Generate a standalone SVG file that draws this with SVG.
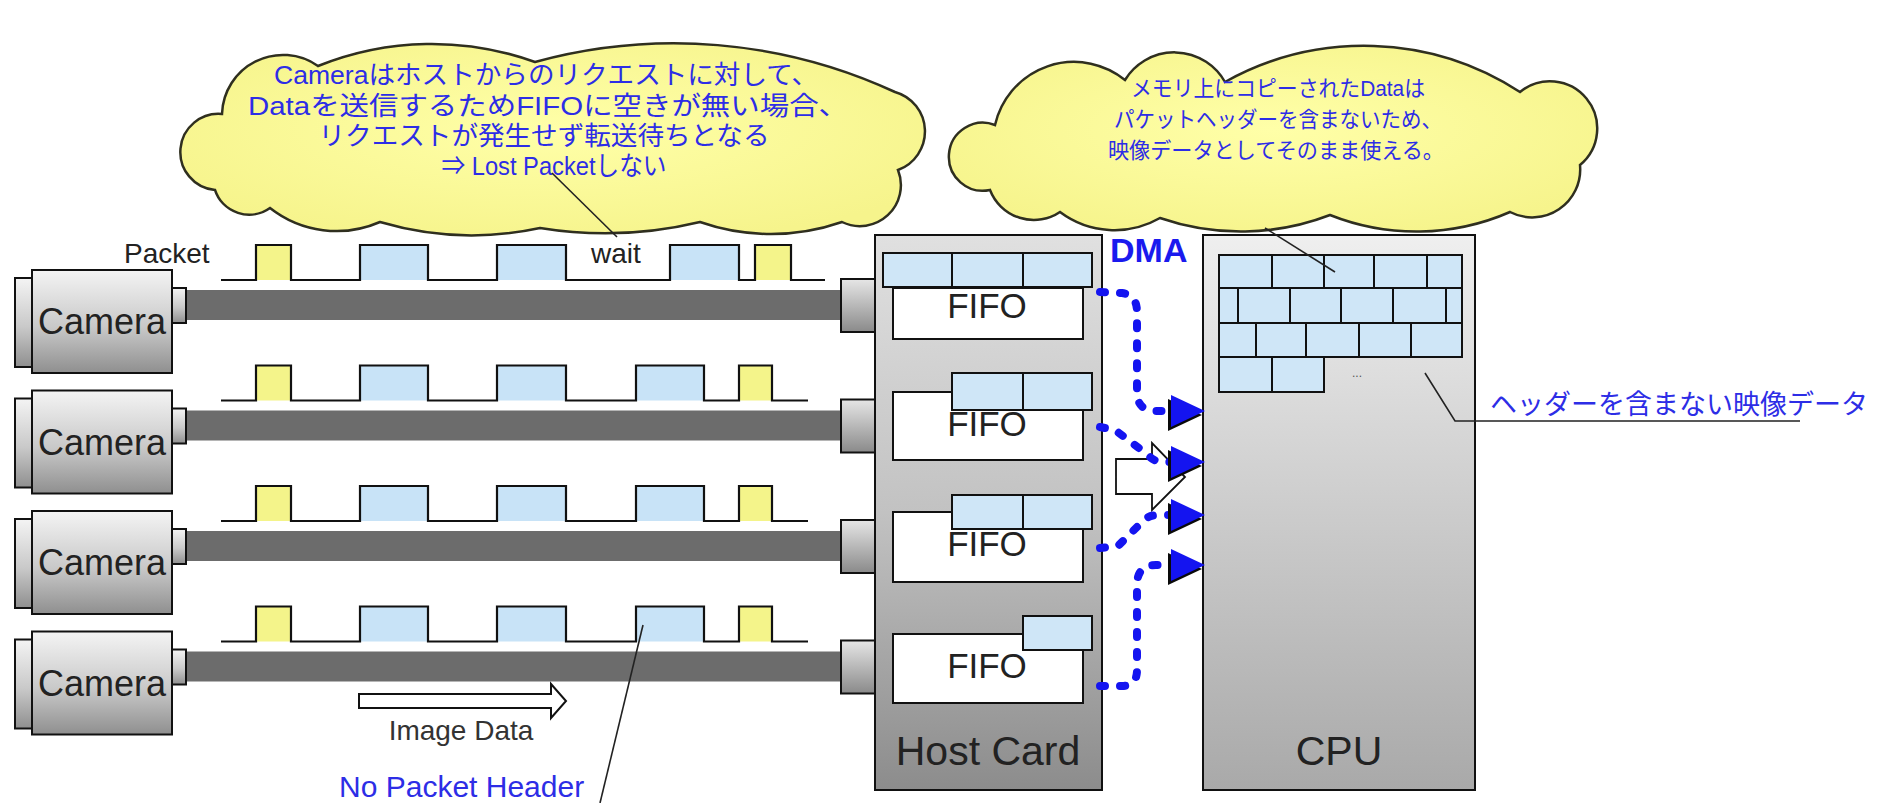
<svg xmlns="http://www.w3.org/2000/svg" xmlns:xlink="http://www.w3.org/1999/xlink" width="1886" height="803" viewBox="0 0 1886 803">
  <style>
    .sans { font-family: "Liberation Sans", "Noto Sans CJK JP", sans-serif; }
    .note { font-family: "Liberation Sans", "Noto Sans CJK JP", sans-serif; fill: #2d2de6; text-anchor: middle; }
    .n1 { font-size: 26px; }
    .n2 { font-size: 22px; }
    .blue { fill: #2d2de6; }
    .cloud { fill: url(#gCloud); stroke: #2f2f1f; stroke-width: 2.5; }
    .edge { stroke: #111; stroke-width: 2; }
    .cable { fill: #6c6c6c; }
    .wave { fill: none; stroke: #111; stroke-width: 2.2; }
    .pY { fill: #f4f48a; }
    .pB { fill: #c8e3f7; }
    .brick { fill: #cfe6f7; stroke: #111; stroke-width: 2; }
    .fifo { fill: #ffffff; stroke: #111; stroke-width: 2; }
    .fifoTxt { font-family: "Liberation Sans", sans-serif; font-size: 35px; fill: #222; text-anchor: middle; }
    .dma { fill: none; stroke: #1414f0; stroke-width: 8; stroke-dasharray: 5 15; stroke-linecap: round; stroke-linejoin: round; }
    .lead { fill: none; stroke: #222; stroke-width: 1.6; }
  </style>
  <defs>
    <linearGradient id="gCam" x1="0" y1="0" x2="0" y2="1">
      <stop offset="0" stop-color="#f4f4f4"/>
      <stop offset="0.55" stop-color="#c9c9c9"/>
      <stop offset="1" stop-color="#8f8f8f"/>
    </linearGradient>
    <linearGradient id="gConn" x1="0" y1="0" x2="0" y2="1">
      <stop offset="0" stop-color="#e6e6e6"/>
      <stop offset="1" stop-color="#8a8a8a"/>
    </linearGradient>
    <linearGradient id="gHost" x1="0" y1="0" x2="0" y2="1">
      <stop offset="0" stop-color="#e0e0e0"/>
      <stop offset="0.5" stop-color="#c2c2c2"/>
      <stop offset="1" stop-color="#8c8c8c"/>
    </linearGradient>
    <linearGradient id="gCpu" x1="0" y1="0" x2="0" y2="1">
      <stop offset="0" stop-color="#efefef"/>
      <stop offset="1" stop-color="#a9a9a9"/>
    </linearGradient>
    <radialGradient id="gCloud" cx="0.5" cy="0.45" r="0.6">
      <stop offset="0" stop-color="#ffffa8"/>
      <stop offset="1" stop-color="#f6f48c"/>
    </radialGradient>
    <!-- camera body with flange, output tab, cable and host-side connector -->
    <g id="camUnit">
      <rect x="186" y="20" width="655" height="30" class="cable"/>
      <rect x="15" y="8" width="17" height="89" fill="url(#gCam)" class="edge"/>
      <rect x="32" y="0" width="140" height="103" fill="url(#gCam)" class="edge"/>
      <rect x="172" y="18" width="14" height="35" fill="url(#gCam)" class="edge"/>
      <rect x="841" y="9" width="34" height="53" fill="url(#gConn)" class="edge"/>
      <text x="102" y="64" class="sans" font-size="36" fill="#222" text-anchor="middle">Camera</text>
    </g>
    <!-- DMA arrowhead with dark drop shadow, tip at origin -->
    <g id="dmaHead">
      <polygon points="-3,4 -37,-12 -37,20" fill="#0a0a0a"/>
      <polygon points="0,0 -34,-16 -34,16" fill="#1414f0"/>
    </g>
  </defs>

  <rect width="1886" height="803" fill="#ffffff"/>

  <!-- camera rows -->
  <g id="camera1" transform="translate(0,270)">
    <use xlink:href="#camUnit"/>
    <rect x="256" y="-25" width="35" height="35" class="pY"/>
    <rect x="360" y="-25" width="68" height="35" class="pB"/>
    <rect x="497" y="-25" width="69" height="35" class="pB"/>
    <rect x="670" y="-25" width="69" height="35" class="pB"/>
    <rect x="755" y="-25" width="36" height="35" class="pY"/>
    <path class="wave" d="M221,10 H256 V-25 H291 V10 H360 V-25 H428 V10 H497 V-25 H566 V10 H670 V-25 H739 V10 H755 V-25 H791 V10 H825"/>
  </g>
  <g id="camera2" transform="translate(0,390.5)">
    <use xlink:href="#camUnit"/>
    <rect x="256" y="-25" width="35" height="35" class="pY"/>
    <rect x="360" y="-25" width="68" height="35" class="pB"/>
    <rect x="497" y="-25" width="69" height="35" class="pB"/>
    <rect x="636" y="-25" width="68" height="35" class="pB"/>
    <rect x="739" y="-25" width="33" height="35" class="pY"/>
    <path class="wave" d="M221,10 H256 V-25 H291 V10 H360 V-25 H428 V10 H497 V-25 H566 V10 H636 V-25 H704 V10 H739 V-25 H772 V10 H808"/>
  </g>
  <g id="camera3" transform="translate(0,511)">
    <use xlink:href="#camUnit"/>
    <rect x="256" y="-25" width="35" height="35" class="pY"/>
    <rect x="360" y="-25" width="68" height="35" class="pB"/>
    <rect x="497" y="-25" width="69" height="35" class="pB"/>
    <rect x="636" y="-25" width="68" height="35" class="pB"/>
    <rect x="739" y="-25" width="33" height="35" class="pY"/>
    <path class="wave" d="M221,10 H256 V-25 H291 V10 H360 V-25 H428 V10 H497 V-25 H566 V10 H636 V-25 H704 V10 H739 V-25 H772 V10 H808"/>
  </g>
  <g id="camera4" transform="translate(0,631.5)">
    <use xlink:href="#camUnit"/>
    <rect x="256" y="-25" width="35" height="35" class="pY"/>
    <rect x="360" y="-25" width="68" height="35" class="pB"/>
    <rect x="497" y="-25" width="69" height="35" class="pB"/>
    <rect x="636" y="-25" width="68" height="35" class="pB"/>
    <rect x="739" y="-25" width="33" height="35" class="pY"/>
    <path class="wave" d="M221,10 H256 V-25 H291 V10 H360 V-25 H428 V10 H497 V-25 H566 V10 H636 V-25 H704 V10 H739 V-25 H772 V10 H808"/>
  </g>

  <g id="labels-left">
    <text x="124" y="263" class="sans" font-size="28" fill="#222">Packet</text>
    <text x="591" y="263" class="sans" font-size="28" fill="#222">wait</text>
    <polygon points="359,694 551,694 551,684 566,701 551,718 551,708 359,708" fill="#ffffff" stroke="#111" stroke-width="2"/>
    <text x="461" y="740" class="sans" font-size="28" fill="#333" text-anchor="middle">Image Data</text>
    <text x="339" y="797" class="sans blue" font-size="30">No Packet Header</text>
  </g>

  <!-- host card with FIFO buffers -->
  <g id="hostCard">
    <rect x="875" y="235" width="227" height="555" fill="url(#gHost)" class="edge"/>
    <rect x="893" y="288" width="190" height="51" class="fifo"/>
    <rect x="883" y="253" width="69" height="34" class="brick"/>
    <rect x="952" y="253" width="71" height="34" class="brick"/>
    <rect x="1023" y="253" width="69" height="34" class="brick"/>
    <text x="987" y="318" class="fifoTxt">FIFO</text>

    <rect x="893" y="392" width="190" height="68" class="fifo"/>
    <rect x="952" y="373" width="71" height="37" class="brick"/>
    <rect x="1023" y="373" width="69" height="37" class="brick"/>
    <text x="987" y="436" class="fifoTxt">FIFO</text>

    <rect x="893" y="512" width="190" height="70" class="fifo"/>
    <rect x="952" y="495" width="71" height="34" class="brick"/>
    <rect x="1023" y="495" width="69" height="34" class="brick"/>
    <text x="987" y="556" class="fifoTxt">FIFO</text>

    <rect x="893" y="634" width="190" height="69" class="fifo"/>
    <rect x="1023" y="616" width="69" height="34" class="brick"/>
    <text x="987" y="678" class="fifoTxt">FIFO</text>

    <text x="988" y="765" class="sans" font-size="41" fill="#222" text-anchor="middle">Host Card</text>
  </g>

  <!-- CPU with host memory -->
  <g id="cpu">
    <rect x="1203" y="235" width="272" height="555" fill="url(#gCpu)" class="edge"/>
    <rect x="1219" y="255" width="53" height="33" class="brick"/>
    <rect x="1272" y="255" width="52" height="33" class="brick"/>
    <rect x="1324" y="255" width="50" height="33" class="brick"/>
    <rect x="1374" y="255" width="53" height="33" class="brick"/>
    <rect x="1427" y="255" width="35" height="33" class="brick"/>
    <rect x="1219" y="288" width="19" height="35" class="brick"/>
    <rect x="1238" y="288" width="52" height="35" class="brick"/>
    <rect x="1290" y="288" width="51" height="35" class="brick"/>
    <rect x="1341" y="288" width="52" height="35" class="brick"/>
    <rect x="1393" y="288" width="53" height="35" class="brick"/>
    <rect x="1446" y="288" width="16" height="35" class="brick"/>
    <rect x="1219" y="323" width="37" height="34" class="brick"/>
    <rect x="1256" y="323" width="50" height="34" class="brick"/>
    <rect x="1306" y="323" width="53" height="34" class="brick"/>
    <rect x="1359" y="323" width="52" height="34" class="brick"/>
    <rect x="1411" y="323" width="51" height="34" class="brick"/>
    <rect x="1219" y="357" width="53" height="35" class="brick"/>
    <rect x="1272" y="357" width="52" height="35" class="brick"/>
    <text x="1357" y="377" class="sans" font-size="12" fill="#555" text-anchor="middle">...</text>
    <text x="1339" y="765" class="sans" font-size="41" fill="#222" text-anchor="middle">CPU</text>
  </g>

  <!-- DMA transfers from FIFOs into memory -->
  <g id="connectors">
    <polygon points="1116,459 1152,459 1152,443 1185,477 1152,510 1152,494 1116,494" fill="#ffffff" stroke="#111" stroke-width="1.8"/>
    <path class="dma" d="M1100,292 L1122,293 Q1137,295 1137,312 L1137,392 Q1137,411 1156,411 L1171,411"/>
    <path class="dma" d="M1100,427 L1115,430 L1148,455 Q1153,461 1162,462 L1171,462"/>
    <path class="dma" d="M1100,548 L1118,546 L1142,522 Q1148,515 1158,515 L1171,515"/>
    <path class="dma" d="M1100,686 L1122,686 Q1137,686 1137,670 L1137,585 Q1137,565 1156,565 L1171,565"/>
    <use xlink:href="#dmaHead" x="1205" y="411"/>
    <use xlink:href="#dmaHead" x="1205" y="462"/>
    <use xlink:href="#dmaHead" x="1205" y="515"/>
    <use xlink:href="#dmaHead" x="1205" y="565"/>
    <text x="1110" y="262" class="sans" font-size="34" font-weight="bold" fill="#1a1aee">DMA</text>
    <path class="lead" d="M600,803 L643,625"/>
    <path class="lead" d="M1425,373 L1455,421 L1800,421"/>
  </g>

  <g id="memoryLabel">
    <text x="1490" y="414" class="sans blue" font-size="27">ヘッダーを含まない映像データ</text>
  </g>

  <!-- callout clouds -->
  <g id="cloudCamera">
    <path class="cloud" d="M215,190 A38,38 0 1 1 222,114 A61,61 0 0 1 318,66 A304,304 0 0 1 535,62 A526,526 0 0 1 895,92 A41,41 0 0 1 898,170 A41,41 0 0 1 842,222 A216,216 0 0 1 700,222 A404,404 0 0 1 540,228 A325,325 0 0 1 380,222 A108,108 0 0 1 270,208 A36,36 0 0 1 215,190 Z"/>
    <text class="note n1" x="546" y="84" textLength="544" lengthAdjust="spacingAndGlyphs">Cameraはホストからのリクエストに対して、</text>
    <text class="note n1" x="548" y="115" textLength="600" lengthAdjust="spacingAndGlyphs">Dataを送信するためFIFOに空きが無い場合、</text>
    <text class="note n1" x="544" y="145" textLength="451" lengthAdjust="spacingAndGlyphs">リクエストが発生せず転送待ちとなる</text>
    <text class="note n1" x="554" y="175" textLength="225" lengthAdjust="spacingAndGlyphs">⇒ Lost Packetしない</text>
    <path class="lead" d="M552,173 L617,237"/>
  </g>
  <g id="cloudMemory">
    <path class="cloud" d="M990,190 A34,34 0 1 1 995,125 A81,81 0 0 1 1125,80 A58,58 0 0 1 1225,82 A286,286 0 0 1 1520,92 A47,47 0 0 1 1580,165 A48,48 0 0 1 1510,212 A234,234 0 0 1 1330,215 A248,248 0 0 1 1160,218 A91,91 0 0 1 1060,212 A47,47 0 0 1 990,190 Z"/>
    <text class="note n2" x="1278" y="96" textLength="294" lengthAdjust="spacingAndGlyphs">メモリ上にコピーされたDataは</text>
    <text class="note n2" x="1278" y="127" textLength="328" lengthAdjust="spacingAndGlyphs">パケットヘッダーを含まないため、</text>
    <text class="note n2" x="1276" y="158" textLength="336" lengthAdjust="spacingAndGlyphs">映像データとしてそのまま使える。</text>
    <path class="lead" d="M1265,228 L1335,272"/>
  </g>
</svg>
